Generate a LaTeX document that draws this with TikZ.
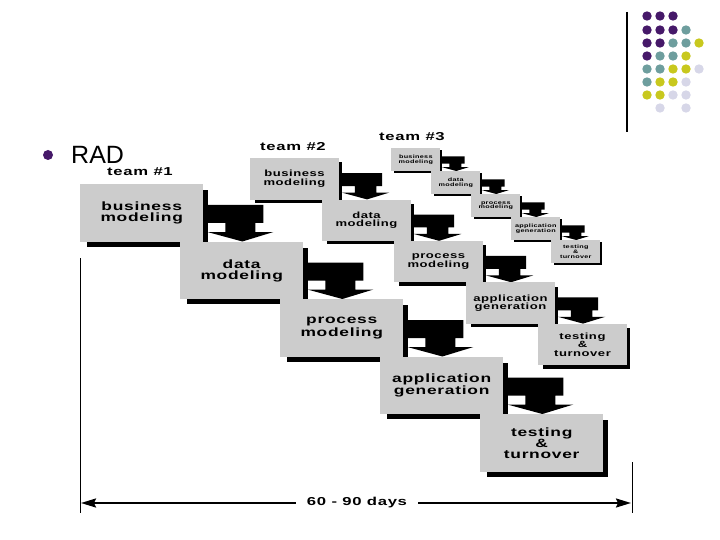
\documentclass[tikz,border=0pt]{standalone}
\usepackage{fontspec}
\setmainfont{Liberation Sans}
\newfontfamily\wfont{Liberation Sans}[FakeStretch=1.45,LetterSpace=6]
\usetikzlibrary{arrows.meta}
\definecolor{boxgray}{RGB}{204,204,204}
\definecolor{dP}{RGB}{70,25,105}
\definecolor{dT}{RGB}{110,158,158}
\definecolor{dY}{RGB}{200,200,30}
\definecolor{dL}{RGB}{215,215,232}
\tikzset{
  stagebox/.style={rectangle,fill=boxgray,inner sep=0pt,align=center,text=black},
  teamlabel/.style={font=\wfont\bfseries\fontsize{11.5}{12}\selectfont,inner sep=0pt},
  thinline/.style={line width=1pt,black},
  spanhead/.tip={Stealth[length=15pt,width=9pt,inset=2pt]},
}
\newcommand\radteam[5]{%
  \foreach \lab [count=\k from 0] in {{business\\modeling},{data\\modeling},{process\\modeling},{application\\generation},{testing\\\&\\turnover}}{%
    \pgfmathsetmacro\bx{#2+100*#4*\k}%
    \pgfmathsetmacro\by{#3+57.5*#4*\k}%
    \pgfmathsetmacro\bw{123*#4}%
    \pgfmathsetmacro\bh{57.5*#4}%
    \fill[black] ({\bx+7*#4},{\by+6*#4}) rectangle ({\bx+128*#4},{\by+62.5*#4});
    \node[stagebox,minimum width=\bw pt,minimum height=\bh pt,font=#5,anchor=north west] (#1s\k) at (\bx,\by) {\lab};
    \ifnum\k<4
      \begin{scope}[shift={(#1s\k.north east)},scale=#4]
        \fill[black] (4,21) -- (60,21) -- (60,39) -- (52,39) -- (52,48) -- (70,48) -- (39,57.5) -- (4,48) -- (22,48) -- (22,39) -- (4,39) -- cycle;
      \end{scope}
    \fi
  }%
}
\begin{document}
\begin{tikzpicture}[x=1pt,y=-1pt]
\useasboundingbox (0,0) rectangle (720,540);
% decoration top right
\draw[line width=1.2pt] (627,12) -- (627,132);
\foreach \c/\x/\y in {dP/647/16,dP/660/16,dP/673/16,
  dP/647/30,dP/660/30,dP/673/30,dT/686/30,
  dP/647/43,dP/660/43,dT/673/43,dT/686/43,dY/699/43,
  dP/647/56,dT/660/56,dT/673/56,dY/686/56,
  dT/647/69,dT/660/69,dY/673/69,dY/686/69,dL/699/69,
  dT/647/82,dY/660/82,dY/673/82,dL/686/82,
  dY/647/95,dY/660/95,dL/673/95,dL/686/95,
  dL/660/108,dL/686/108}
  {\fill[\c] (\x,\y) circle[radius=4.7pt];}
% bullet
\fill[dP] (48,155) circle[radius=5pt];
\node[anchor=base west,inner sep=0pt,font=\fontsize{25}{25}\selectfont] (rad) at (71,164) {RAD};
% team titles
\node[teamlabel] (team1) at (140,172) {team \#1};
\node[teamlabel] (team2) at (293,147) {team \#2};
\node[teamlabel] (team3) at (412,137) {team \#3};
% teams
\radteam{t3}{391}{148}{0.4}{\wfont\bfseries\fontsize{5}{4.8}\selectfont}
\radteam{t2}{250}{158}{0.72}{\wfont\bfseries\fontsize{9}{8.5}\selectfont}
\radteam{t1}{80}{184}{1}{\wfont\bfseries\fontsize{12}{11}\selectfont}
% bottom span
\draw[thinline] (80,258) -- (80,513);
\draw[thinline] (632,462) -- (632,513);
\coordinate (dl) at (81,503);
\coordinate (dr) at (631,503);
\node[font=\wfont\bfseries\fontsize{11.5}{12}\selectfont,inner xsep=11pt,inner ysep=0pt] (days) at (357,503) {60 - 90 days};
\draw[line width=2pt,{spanhead}-] (dl) -- (days.west);
\draw[line width=2pt,-{spanhead}] (days.east) -- (dr);
\end{tikzpicture}
\end{document}
